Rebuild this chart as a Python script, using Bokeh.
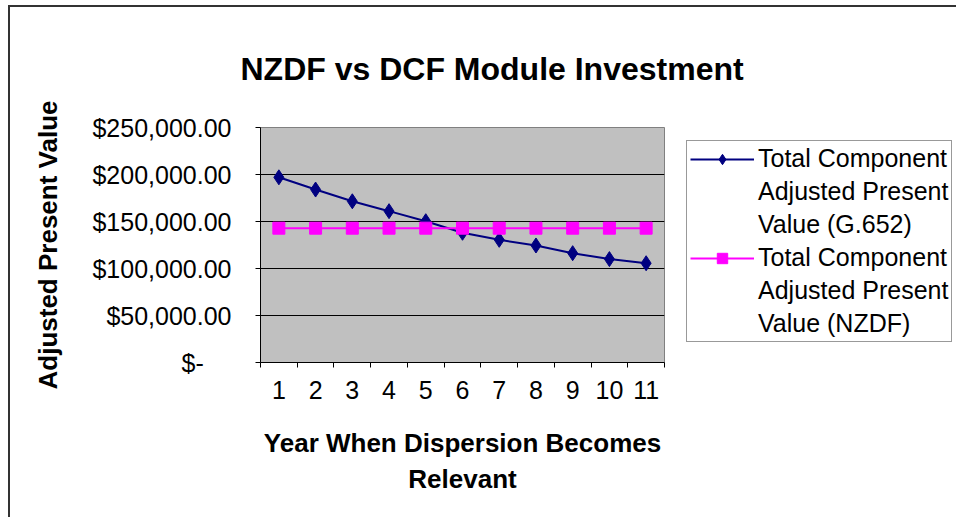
from bokeh.plotting import figure
from bokeh.models import FixedTicker, Legend, LegendItem, Range1d, Title
from bokeh.embed import file_html
from bokeh.resources import INLINE

# ---- data ----
years = [1, 2, 3, 4, 5, 6, 7, 8, 9, 10, 11]
g652 = [197000, 184000, 171500, 161000, 150300, 138000, 130500, 124500, 116300, 110000, 105600]
nzdf = [142900, 142900, 142900, 142900, 142900, 142900, 142900, 142900, 142900, 142900, 142900]
y_ticks = [0, 50000, 100000, 150000, 200000, 250000]
y_tick_labels = ["$-\u00a0\u00a0\u00a0\u00a0", "$50,000.00", "$100,000.00", "$150,000.00", "$200,000.00", "$250,000.00"]
x_bounds = [0.5, 1.5, 2.5, 3.5, 4.5, 5.5, 6.5, 7.5, 8.5, 9.5, 10.5, 11.5]
title_text = "NZDF vs DCF Module Investment"

FONT = "Liberation Sans"

p = figure(
    title=None,
    frame_width=404, frame_height=235,
    min_border_left=250, min_border_right=284, min_border_top=120, min_border_bottom=155,
    x_range=Range1d(0.5, 11.5), y_range=Range1d(0, 250000),
    output_backend="svg", toolbar_location=None,
    background_fill_color="#C0C0C0", border_fill_color="white",
    styles={"margin-left": "8px", "margin-top": "5px",
            "border-left": "2px solid #333333", "border-top": "2px solid #333333"},
)

title = Title(text=title_text, text_font=FONT, text_font_size="32px",
              text_font_style="bold", text_color="black",
              align="left", offset=-20, standoff=82)
p.add_layout(title, "above")

p.outline_line_color = "#808080"
p.outline_line_width = 1

# x axis
xa = p.xaxis[0]
xa.ticker = FixedTicker(ticks=years, minor_ticks=x_bounds)
xa.major_tick_out = 0
xa.major_tick_in = 0
xa.minor_tick_out = 5
xa.minor_tick_in = 0
xa.minor_tick_line_color = "black"
xa.axis_line_color = "black"
xa.major_label_text_font = FONT
xa.major_label_text_font_size = "25px"
xa.major_label_text_color = "black"
xa.major_label_standoff = 13
xa.axis_label = "Year When Dispersion Becomes\nRelevant"
xa.axis_label_text_font = FONT
xa.axis_label_text_font_size = "26px"
xa.axis_label_text_font_style = "bold"
xa.axis_label_text_color = "black"
xa.axis_label_standoff = 26
xa.axis_label_text_line_height = 1.2
p.xgrid.visible = False

# y axis
ya = p.yaxis[0]
ya.ticker = FixedTicker(ticks=y_ticks, minor_ticks=[])
ya.major_label_overrides = {t: l for t, l in zip(y_ticks, y_tick_labels)}
ya.major_tick_out = 5
ya.major_tick_in = 0
ya.major_tick_line_color = "black"
ya.minor_tick_line_color = None
ya.axis_line_color = "black"
ya.major_label_text_font = FONT
ya.major_label_text_font_size = "25px"
ya.major_label_text_color = "black"
ya.major_label_standoff = 24
ya.axis_label = "Adjusted Present Value"
ya.axis_label_text_font = FONT
ya.axis_label_text_font_size = "26px"
ya.axis_label_text_font_style = "bold"
ya.axis_label_text_color = "black"
ya.axis_label_standoff = 26
p.ygrid.grid_line_color = "black"
p.ygrid.grid_line_width = 1
p.ygrid.ticker = FixedTicker(ticks=y_ticks)

# series
gl = p.line(years, g652, line_color="#000080", line_width=2)
gm = p.scatter(years, g652, marker="diamond", size=15,
               fill_color="#000080", line_color="#000080")
nl = p.line(years, nzdf, line_color="#FF00FF", line_width=2)
nm = p.scatter(years, nzdf, marker="square", size=12,
               fill_color="#FF00FF", line_color="#FF00FF")
dummy = p.line(x=[], y=[], line_alpha=0)

items = [
    LegendItem(label="Total Component", renderers=[gl, gm]),
    LegendItem(label="Adjusted Present", renderers=[dummy]),
    LegendItem(label="Value (G.652)", renderers=[dummy]),
    LegendItem(label="Total Component", renderers=[nl, nm]),
    LegendItem(label="Adjusted Present", renderers=[dummy]),
    LegendItem(label="Value (NZDF)", renderers=[dummy]),
]
legend = Legend(
    items=items, location=(22, 20), margin=0, padding=3, spacing=4,
    glyph_width=64, glyph_height=26, label_height=28, label_standoff=4,
    label_text_font=FONT, label_text_font_size="25px", label_text_color="black",
    border_line_color="#333333", border_line_width=1,
    background_fill_color="white", click_policy="none",
)
p.add_layout(legend, "right")

open("out.html", "w").write(file_html(p, INLINE))
